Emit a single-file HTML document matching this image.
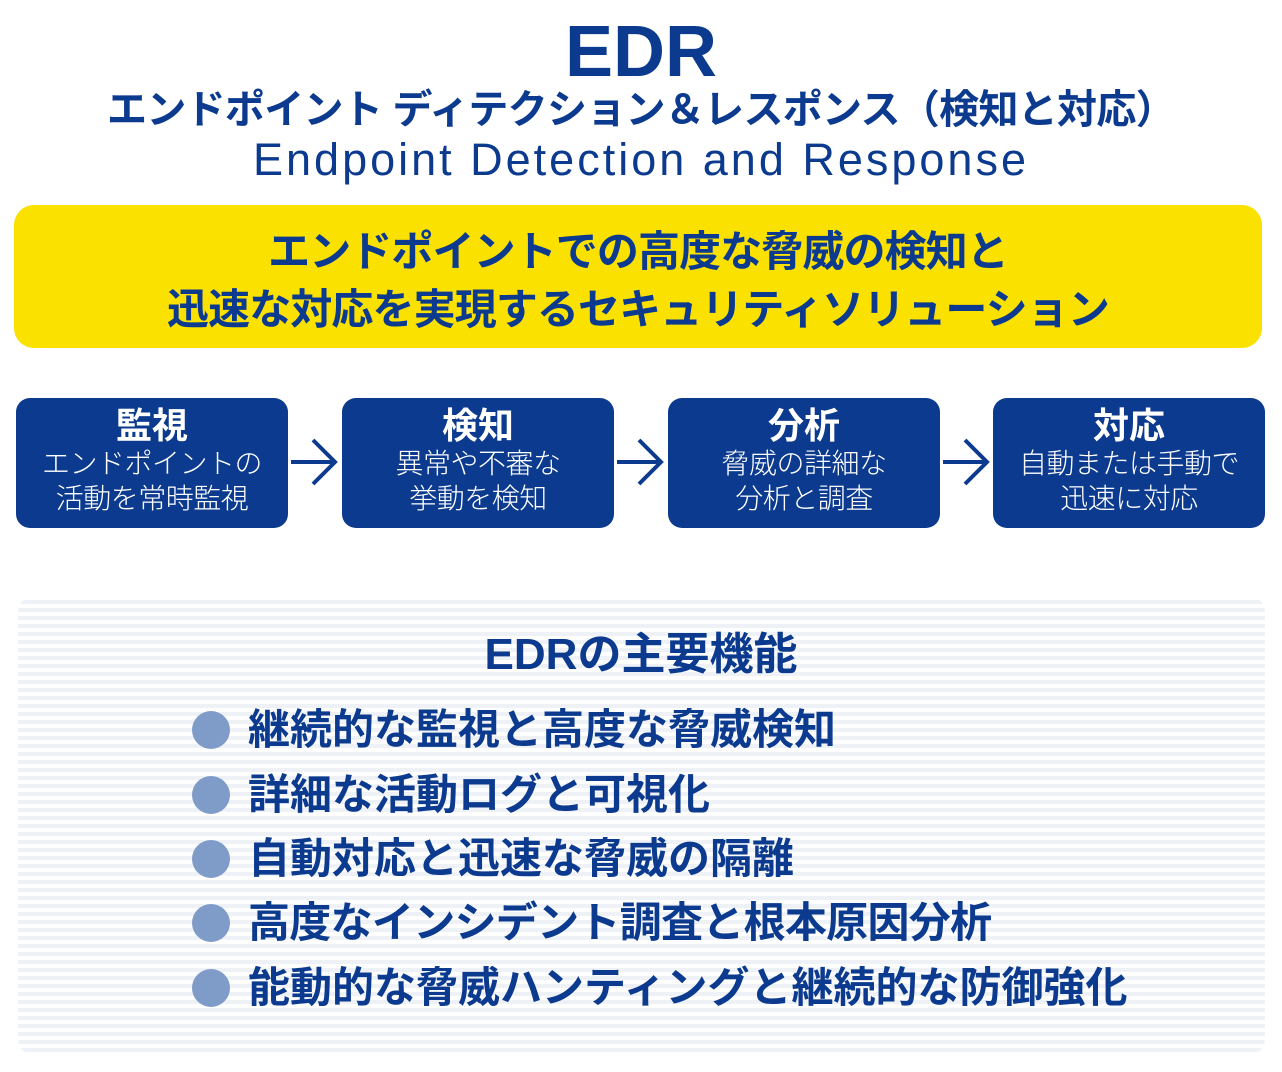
<!DOCTYPE html>
<html><head><meta charset="utf-8"><style>
body{margin:0;width:1282px;height:1072px;background:#fff;position:relative;overflow:hidden;font-family:"Liberation Sans","Noto Sans CJK JP",sans-serif;color:#0b3a8e}
.a{position:absolute}
.c{left:0;width:1282px;text-align:center;white-space:nowrap}
.box{position:absolute;top:398px;width:272px;height:130px;background:#0b3a8e;border-radius:14px;color:#fff;text-align:center}
.box b{display:block;font-size:36px;line-height:40px;margin-top:8px}
.box span{display:block;font-size:28px;line-height:35px;font-weight:300;letter-spacing:-0.5px}
.arr{position:absolute;top:436px;width:50px;height:52px}
.li{position:absolute;left:192px;font-size:42px;font-weight:bold;line-height:50px;white-space:nowrap}
.li:before{content:"";position:absolute;left:0;top:6px;width:38px;height:38px;border-radius:50%;background:#7f9cc8}
.li span{margin-left:56px}
</style></head><body>
<div class="a c" style="top:14px;font-size:72px;font-weight:bold;line-height:76px">EDR</div>
<div class="a c" style="top:86px;font-size:40px;font-weight:bold;line-height:48px;letter-spacing:-0.7px">エンドポイント ディテクション＆レスポンス（検知と対応）</div>
<div class="a c" style="top:134px;font-size:45px;line-height:52px;letter-spacing:3px">Endpoint Detection and Response</div>
<div class="a" style="left:14px;top:205px;width:1248px;height:143px;background:#fbe100;border-radius:20px;text-align:center;font-size:42px;font-weight:bold;line-height:58px;padding-top:18px;box-sizing:border-box;letter-spacing:-0.9px">エンドポイントでの高度な脅威の検知と<br>迅速な対応を実現するセキュリティソリューション</div>
<div class="box" style="left:16px"><b>監視</b><span>エンドポイントの<br>活動を常時監視</span></div>
<div class="box" style="left:342px"><b>検知</b><span>異常や不審な<br>挙動を検知</span></div>
<div class="box" style="left:668px"><b>分析</b><span>脅威の詳細な<br>分析と調査</span></div>
<div class="box" style="left:993px"><b>対応</b><span>自動または手動で<br>迅速に対応</span></div>
<svg class="arr" style="left:289px" viewBox="0 0 50 52"><path d="M2 26H46M24 4L46 26L24 48" fill="none" stroke="#0b3a8e" stroke-width="4"/></svg>
<svg class="arr" style="left:615px" viewBox="0 0 50 52"><path d="M2 26H46M24 4L46 26L24 48" fill="none" stroke="#0b3a8e" stroke-width="4"/></svg>
<svg class="arr" style="left:941px" viewBox="0 0 50 52"><path d="M2 26H46M24 4L46 26L24 48" fill="none" stroke="#0b3a8e" stroke-width="4"/></svg>
<div class="a" style="left:18px;top:596px;width:1247px;height:459px;border-radius:16px;background:repeating-linear-gradient(#fff 0 4px,#eef1f6 4px 8px)"></div>
<div class="a c" style="top:628px;font-size:44px;font-weight:bold;line-height:54px">EDRの主要機能</div>
<div class="li" style="top:705px"><span>継続的な監視と高度な脅威検知</span></div>
<div class="li" style="top:770px"><span>詳細な活動ログと可視化</span></div>
<div class="li" style="top:834px"><span>自動対応と迅速な脅威の隔離</span></div>
<div class="li" style="top:898px"><span style="letter-spacing:-0.7px">高度なインシデント調査と根本原因分析</span></div>
<div class="li" style="top:963px"><span>能動的な脅威ハンティングと継続的な防御強化</span></div>
</body></html>
